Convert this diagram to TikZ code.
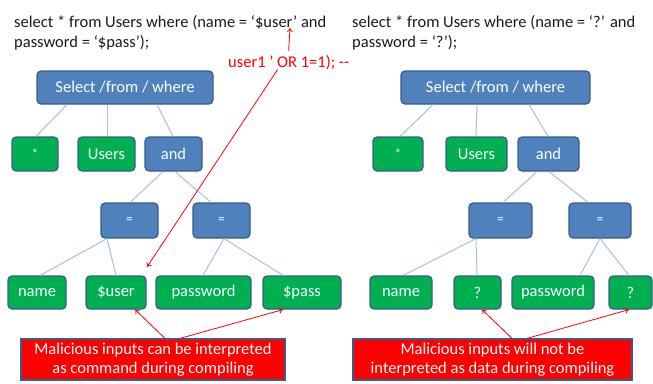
\documentclass[tikz,border=0pt]{standalone}
\usepackage{fontspec}
\setmainfont{Carlito}
\usetikzlibrary{arrows.meta,calc}
\definecolor{boxblue}{HTML}{4F81BD}
\definecolor{boxgreen}{HTML}{00B050}
\definecolor{bordc}{HTML}{385D8A}
\definecolor{linkc}{HTML}{A7BFDE}
\definecolor{txtc}{HTML}{1A1A1A}
\tikzset{
 tnode/.style={rectangle, rounded corners=4pt, draw=bordc, line width=1.2pt, inner sep=0pt, text=white, font=\fontsize{16.5}{20}\selectfont, minimum height=33pt},
 opbox/.style={tnode, fill=boxblue},
 leafbox/.style={tnode, fill=boxgreen},
 small/.style={font=\fontsize{13.5}{16}\selectfont},
 link/.style={draw=linkc, line width=1pt},
 note/.style={rectangle, fill=red, draw=bordc, line width=1.2pt, text=white, align=center, inner sep=0pt, minimum height=41pt, font=\fontsize{16.5}{18.5}\selectfont},
 redarrow/.style={draw=red, line width=0.8pt, -{To[length=4pt,width=6pt]}},
 query/.style={anchor=base west, inner sep=0pt, text=txtc, font=\fontsize{16.5}{20}\selectfont},
}
\begin{document}
\begin{tikzpicture}[x=1pt,y=-1pt]
\useasboundingbox (0,0) rectangle (653,383);

% ---------- queries ----------
\node[query] (qa1) at (14,27) {select * from Users where (name = ‘\$user’ and};
\node[query] (qa2) at (14,47) {password = ‘\$pass’);};
\node[query] (qb1) at (352,27) {select * from Users where (name = ‘?’ and};
\node[query] (qb2) at (352,47) {password = ‘?’);};
\node[query, text=red] (inj) at (228,67) {user1 ’ OR 1=1); -{}-};

% ---------- left tree ----------
\node[opbox, minimum width=176pt] (sel) at (125,87.5) {Select /from / where};
\node[leafbox, small, minimum width=46pt, minimum height=34pt] (star) at (35,154) {*};
\node[leafbox, minimum width=57pt, minimum height=34pt] (users) at (106.5,154) {Users};
\node[opbox, minimum width=57pt, minimum height=34pt] (and) at (173.5,154) {and};
\node[opbox, small, minimum width=57pt, minimum height=35pt] (eql) at (129.5,220.5) {=};
\node[opbox, small, minimum width=57pt, minimum height=35pt] (eqr) at (221.5,220.5) {=};
\node[leafbox, minimum width=58pt] (name) at (37,292.5) {name};
\node[leafbox, minimum width=60pt] (user) at (116,292.5) {\$user};
\node[leafbox, minimum width=95pt] (pwd) at (203.5,292.5) {password};
\node[leafbox, minimum width=78pt] (pass) at (302,292.5) {\$pass};
\node[note, minimum width=264pt] (warn) at (153,359.5) {Malicious inputs can be interpreted\\as command during compiling};

\draw[link] ([xshift=-58pt]sel.south) -- ([xshift=1pt]star.north);
\draw[link] ([xshift=-18pt]sel.south) -- ([xshift=0.5pt]users.north);
\draw[link] ([xshift=32pt]sel.south) -- ([xshift=-0.5pt]and.north);
\draw[link] ([xshift=-10.5pt]and.south) -- ([xshift=0.5pt]eql.north);
\draw[link] ([xshift=1.5pt]and.south) -- ([xshift=-10.5pt]eqr.north);
\draw[link] ([xshift=-22.5pt]eql.south) -- ([xshift=3pt]name.north);
\draw[link] ([xshift=-22.5pt]eql.south) -- (user.north);
\draw[link] ([xshift=2.5pt]eqr.south) -- ([xshift=-0.5pt]pwd.north);
\draw[link] ([xshift=2.5pt]eqr.south) -- ([xshift=-19pt]pass.north);

% red arrows left
\coordinate (usertxt) at (290,28);
\coordinate (hit) at (147,267);
\draw[redarrow] ([yshift=4pt]inj.north) -- (usertxt);
\draw[redarrow] ([xshift=-11pt]inj.south) -- (hit);
\draw[redarrow] ([xshift=12pt]warn.north) -- ([xshift=19pt]user.south);
\draw[redarrow] ([xshift=27pt]warn.north) -- ([xshift=-19pt]pass.south);

% ---------- right tree ----------
\node[opbox, minimum width=189pt] (selb) at (495.5,87.5) {Select /from / where};
\node[leafbox, small, minimum width=50pt, minimum height=34pt] (starb) at (398,154) {*};
\node[leafbox, minimum width=61pt, minimum height=34pt] (usersb) at (476.5,154) {Users};
\node[opbox, minimum width=61pt, minimum height=34pt] (andb) at (548.5,154) {and};
\node[opbox, small, minimum width=63pt, minimum height=35pt] (eqlb) at (500.5,220.5) {=};
\node[opbox, small, minimum width=62pt, minimum height=35pt] (eqrb) at (600,220.5) {=};
\node[leafbox, minimum width=62pt] (nameb) at (401,292.5) {name};
\node[leafbox, minimum width=47pt] (qa) at (477.5,292.5) {?};
\node[leafbox, minimum width=82pt] (pwdb) at (553,292.5) {password};
\node[leafbox, minimum width=43pt] (qb) at (630.5,292.5) {?};
\node[note, minimum width=279pt] (warnb) at (492.5,359.5) {Malicious inputs will not be\\interpreted as data during compiling};

\draw[link] ([xshift=-62.5pt]selb.south) -- ([xshift=2pt]starb.north);
\draw[link] ([xshift=-18.5pt]selb.south) -- ([xshift=-0.5pt]usersb.north);
\draw[link] ([xshift=33.5pt]selb.south) -- ([xshift=-0.5pt]andb.north);
\draw[link] ([xshift=-11.5pt]andb.south) -- ([xshift=2.5pt]eqlb.north);
\draw[link] ([xshift=0.5pt]andb.south) -- ([xshift=-12pt]eqrb.north);
\draw[link] ([xshift=-24.5pt]eqlb.south) -- ([xshift=2pt]nameb.north);
\draw[link] ([xshift=-24.5pt]eqlb.south) -- ([xshift=-0.5pt]qa.north);
\draw[link] (eqrb.south) -- ([xshift=27pt]pwdb.north);
\draw[link] (eqrb.south) -- ([xshift=-1.5pt]qb.north);

\draw[redarrow] ([xshift=19.5pt]warnb.north) -- ([xshift=4.5pt]qa.south);
\draw[redarrow] ([xshift=34.5pt]warnb.north) -- ([xshift=-1.5pt]qb.south);
\end{tikzpicture}
\end{document}
